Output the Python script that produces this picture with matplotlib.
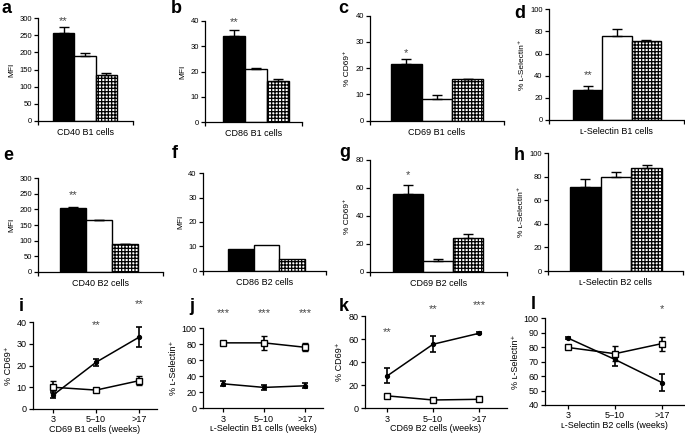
import matplotlib
matplotlib.use('Agg')
import matplotlib.pyplot as plt

plt.rcParams['font.family'] = ['Liberation Sans', 'DejaVu Sans']
plt.rcParams['hatch.linewidth'] = 0.9
plt.rcParams['axes.linewidth'] = 0.9

# bar panels: black, white, hatched bars
cd40_b1 = [256, 190, 135]
cd40_b1_err = [19, 7, 6]
cd86_b1 = [34, 20.8, 16.2]
cd86_b1_err = [2.3, 0.4, 0.8]
cd69_b1 = [21.5, 8.4, 16]
cd69_b1_err = [2, 1.3, 0]
lsel_b1 = [27.5, 76, 71]
lsel_b1_err = [3, 6, 1.2]
cd40_b2 = [204, 167, 90]
cd40_b2_err = [3, 0, 0]
cd86_b2 = [8.8, 10.7, 5]
cd69_b2 = [55.5, 7.8, 24]
cd69_b2_err = [6.5, 1.5, 2.8]
lsel_b2 = [71.5, 80, 87.5]
lsel_b2_err = [6.5, 4, 2.3]

# line panels
weeks = ['3', '5\u201310', '>17']
cd69_b1_closed = [6.4, 21.5, 33]
cd69_b1_closed_err = [1.5, 1.5, 4.6]
cd69_b1_open = [10, 8.7, 13]
cd69_b1_open_err = [2.7, 1.1, 2.1]
lsel_b1_open = [81.5, 81.5, 76]
lsel_b1_open_err = [1, 9, 5]
lsel_b1_closed = [30.5, 26, 28]
lsel_b1_closed_err = [3.3, 3.3, 3.3]
cd69_b2_closed = [28, 55.5, 65]
cd69_b2_closed_err = [6.5, 7, 0.8]
cd69_b2_open = [10.8, 7.2, 7.8]
cd69_b2_open_err = [1, 1, 0.8]
lsel_b2_open = [79.8, 75.5, 82.5]
lsel_b2_open_err = [1, 5, 4.8]
lsel_b2_closed = [86.3, 71.5, 55.5]
lsel_b2_closed_err = [0.5, 4.8, 6]

W, H = 685, 437
fig = plt.figure(figsize=(W / 100, H / 100), dpi=100)


def box(l, t, r, b):
    return fig.add_axes([l / W, 1 - b / H, (r - l) / W, (b - t) / H])


def style(ax, fs):
    for s in ['top', 'right']:
        ax.spines[s].set_visible(False)
    ax.tick_params(direction='out', length=3, width=0.9, labelsize=fs, pad=1.5)


def bar_panel(rect, vals, errs, ylim, step, ylabel, xlabel, xlim, stars=None, star_y=None):
    ax = box(*rect)
    style(ax, 5.5)
    x = [0, 1, 2]
    ax.bar(x, vals, width=1, color=['black', 'white', 'white'], edgecolor='black',
           linewidth=1.0, hatch=[None, None, '+++++'], zorder=2)
    if errs is not None:
        ax.errorbar(x, vals, yerr=[[0, 0, 0], errs], fmt='none', ecolor='black',
                    elinewidth=1.0, capsize=3.5, capthick=1.0, zorder=3)
    ax.set_ylim(*ylim)
    ax.set_yticks(range(ylim[0], ylim[1] + 1, step))
    ax.set_xlim(*xlim)
    ax.set_xticks(list(xlim))
    ax.set_xticklabels(['', ''])
    ax.set_ylabel(ylabel, fontsize=6, labelpad=3)
    ax.set_xlabel(xlabel, fontsize=6.5, labelpad=0.5)
    if stars:
        ax.text(0, star_y, stars, ha='center', va='center', fontsize=8, color='#444444')
    return ax


def line_panel(rect, closed, closed_err, opn, opn_err, ylim, step, ylabel, xlabel, xlim, stars):
    ax = box(*rect)
    style(ax, 6.5)
    x = [0, 1, 2]
    ax.errorbar(x, closed, yerr=closed_err, fmt='-o', color='black', ms=2.8, lw=1.1,
                elinewidth=1.2, capsize=2.2, capthick=1.2, zorder=3, clip_on=False)
    ax.errorbar(x, opn, yerr=opn_err, fmt='-s', color='black', mfc='white', mec='black',
                mew=1.0, ms=4, lw=1.1, elinewidth=1.2, capsize=2.2, capthick=1.2,
                zorder=4, clip_on=False)
    ax.set_ylim(*ylim)
    ax.set_yticks(range(ylim[0], ylim[1] + 1, step))
    ax.set_xlim(*xlim)
    ax.set_xticks(x)
    ax.set_xticklabels(weeks)
    ax.set_ylabel(ylabel, fontsize=6.5, labelpad=3)
    ax.set_xlabel(xlabel, fontsize=6.5, labelpad=0.5)
    for xi, (s, sy) in stars.items():
        ax.text(xi, sy, s, ha='center', va='center', fontsize=8, color='#444444',
                clip_on=False)
    return ax


lsel_lab = '% \u029f-Selectin\u207a'
cd69_lab = '% CD69\u207a'

bar_panel((38, 18.3, 133, 120.7), cd40_b1, cd40_b1_err, (0, 300), 50, 'MFI',
          'CD40 B1 cells', (-1.2, 3.25), '**', 293)
bar_panel((205, 20.7, 302, 122.3), cd86_b1, cd86_b1_err, (0, 40), 10, 'MFI',
          'CD86 B1 cells', (-1.32, 3.09), '**', 39.5)
bar_panel((370, 15.7, 504, 120.7), cd69_b1, cd69_b1_err, (0, 40), 10, cd69_lab,
          'CD69 B1 cells', (-1.18, 3.18), '*', 25.6)
bar_panel((549, 9.3, 684, 120), lsel_b1, lsel_b1_err, (0, 100), 20, lsel_lab,
          '\u029f-Selectin B1 cells', (-1.32, 3.28), '**', 40.4)

bar_panel((38, 178.3, 163, 271.7), cd40_b2, cd40_b2_err, (0, 300), 50, 'MFI',
          'CD40 B2 cells', (-1.35, 3.46), '**', 245)
bar_panel((203, 173.3, 326, 270.7), cd86_b2, None, (0, 40), 10, 'MFI',
          'CD86 B2 cells', (-1.47, 3.32))
bar_panel((370, 160, 507, 271.7), cd69_b2, cd69_b2_err, (0, 80), 20, cd69_lab,
          'CD69 B2 cells', (-1.27, 3.3), '*', 69)
bar_panel((548, 153.3, 683, 271), lsel_b2, lsel_b2_err, (0, 100), 20, lsel_lab,
          '\u029f-Selectin B2 cells', (-1.22, 3.18))

line_panel((33, 322, 157, 409), cd69_b1_closed, cd69_b1_closed_err, cd69_b1_open,
           cd69_b1_open_err, (0, 40), 10, cd69_lab, 'CD69 B1 cells (weeks)',
           (-0.47, 2.42), {1: ('**', 38.6), 2: ('**', 48.3)})
line_panel((203, 328, 323, 408.3), lsel_b1_closed, lsel_b1_closed_err, lsel_b1_open,
           lsel_b1_open_err, (0, 100), 20, lsel_lab, '\u029f-Selectin B1 cells (weeks)',
           (-0.49, 2.44), {0: ('***', 119), 1: ('***', 119), 2: ('***', 119)})
line_panel((365, 316, 507, 408.3), cd69_b2_closed, cd69_b2_closed_err, cd69_b2_open,
           cd69_b2_open_err, (0, 80), 20, cd69_lab, 'CD69 B2 cells (weeks)',
           (-0.48, 2.61), {0: ('**', 66), 1: ('**', 86), 2: ('***', 89.5)})
line_panel((545, 318.3, 684, 405), lsel_b2_closed, lsel_b2_closed_err, lsel_b2_open,
           lsel_b2_open_err, (40, 100), 10, lsel_lab, '\u029f-Selectin B2 cells (weeks)',
           (-0.49, 2.47), {2: ('*', 106.3)})

# panel letters
letters = [('a', 6, 13), ('b', 176, 13), ('c', 343, 13), ('d', 520, 18),
           ('e', 8, 160), ('f', 175, 158), ('g', 345, 157), ('h', 519, 160),
           ('i', 21, 311), ('j', 192, 311), ('k', 344, 311), ('l', 533, 309)]
for s, lx, ly in letters:
    fig.text(lx / W, 1 - ly / H, s, ha='center', va='baseline', fontsize=13,
             fontweight='bold')

fig.savefig('out.png', dpi=100)
